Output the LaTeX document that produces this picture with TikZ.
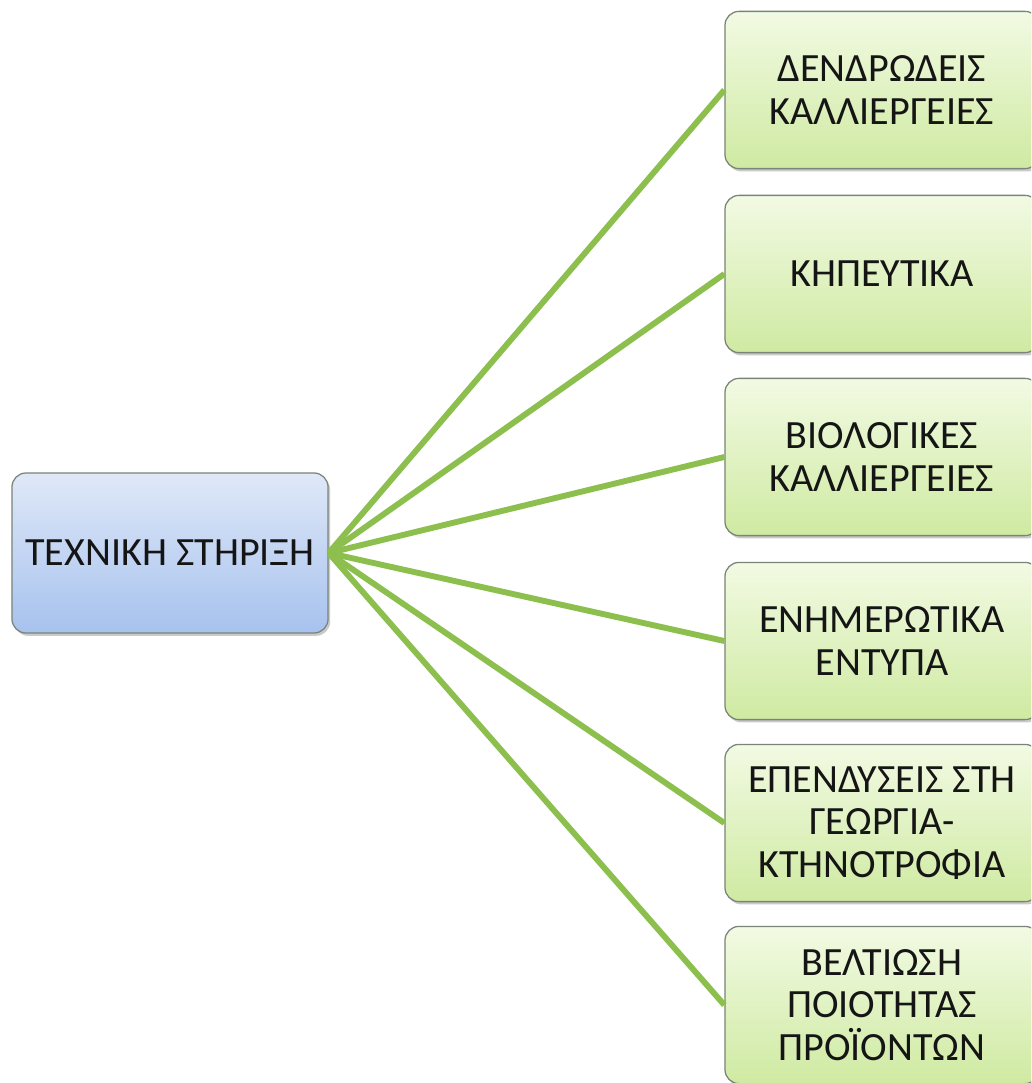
\documentclass[tikz,border=0pt]{standalone}
\usepackage{fontspec}
\setmainfont{Carlito}
\usetikzlibrary{shadows}
\definecolor{bluetop}{HTML}{DFE8F8}
\definecolor{bluebot}{HTML}{A7C2EE}
\definecolor{greentop}{HTML}{F2FAE3}
\definecolor{greenbot}{HTML}{CFEAA2}
\definecolor{linkgreen}{HTML}{8DBF4F}
\definecolor{edgegray}{HTML}{7A8478}
\definecolor{txt}{HTML}{151515}
\tikzset{
  boxbase/.style={draw=edgegray, line width=0.9pt, rounded corners=10pt,
    align=center, text=txt, font=\fontsize{28.5}{30}\selectfont,
    drop shadow={shadow xshift=1.5pt, shadow yshift=-2pt, opacity=0.35, fill=black!60}},
  rootbox/.style={boxbase, top color=bluetop, bottom color=bluebot,
    minimum width=7.9cm, minimum height=4cm},
  leafbox/.style={boxbase, top color=greentop, bottom color=greenbot,
    minimum width=7.85cm, minimum height=3.93cm},
  link/.style={draw=linkgreen, line width=4.2pt}
}
\begin{document}
\begin{tikzpicture}[x=0.025cm, y=-0.025cm]
\useasboundingbox (0,0) rectangle (1031,1083);
\clip (0,0) rectangle (1031,1083);
\node[rootbox] (root) at (170,553) {ΤΕΧΝΙΚΗ ΣΤΗΡΙΞΗ};
\node[leafbox] (a) at (882,90) {ΔΕΝΔΡΩΔΕΙΣ\\ΚΑΛΛΙΕΡΓΕΙΕΣ};
\node[leafbox] (b) at (882,274) {ΚΗΠΕΥΤΙΚΑ};
\node[leafbox] (c) at (882,457) {ΒΙΟΛΟΓΙΚΕΣ\\ΚΑΛΛΙΕΡΓΕΙΕΣ};
\node[leafbox] (d) at (882,641) {ΕΝΗΜΕΡΩΤΙΚΑ\\ΕΝΤΥΠΑ};
\node[leafbox] (e) at (882,823) {ΕΠΕΝΔΥΣΕΙΣ ΣΤΗ\\ΓΕΩΡΓΙΑ-\\ΚΤΗΝΟΤΡΟΦΙΑ};
\node[leafbox] (f) at (882,1005) {ΒΕΛΤΙΩΣΗ\\ΠΟΙΟΤΗΤΑΣ\\ΠΡΟΪΟΝΤΩΝ};
\foreach \t in {a,b,c,d,e,f}{
  \draw[link] (root.east) -- (\t.west);
}
\end{tikzpicture}
\end{document}
